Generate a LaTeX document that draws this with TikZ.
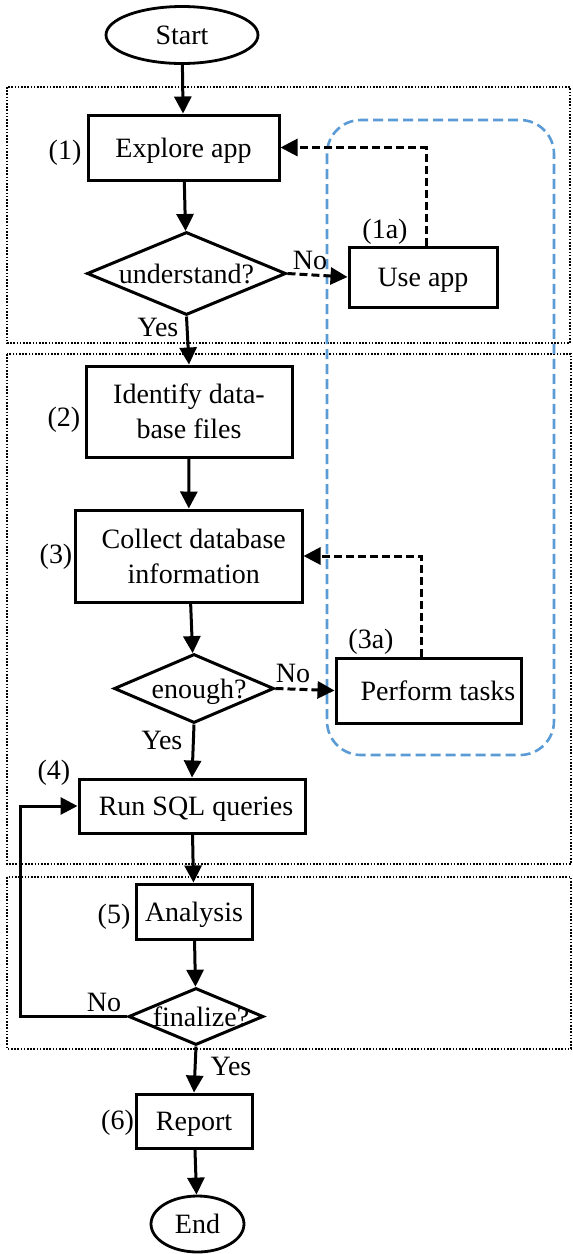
\documentclass[tikz,border=0pt]{standalone}
\usepackage{fontspec}
\setmainfont{Liberation Serif}
\usetikzlibrary{arrows.meta,shapes.geometric}
\definecolor{groupblue}{HTML}{5B9BD5}

\begin{document}
\begin{tikzpicture}[x=1pt,y=-1pt,
  every node/.style={font=\fontsize{28}{35}\selectfont},
  proc/.style={draw, line width=3pt, rectangle, inner sep=2pt, align=center, text depth=0pt},
  term/.style={draw, line width=2.8pt, ellipse, inner sep=0pt, text depth=0pt},
  dec/.style={draw, line width=3pt, diamond, inner sep=0pt, text depth=0pt},
  tag/.style={inner sep=0pt},
  flow/.style={line width=3pt, -{Triangle[length=17pt,width=17pt]}},
  alt/.style={flow, dash pattern=on 8pt off 4pt},
  phase/.style={line width=1.8pt, dash pattern=on 1.6pt off 1.6pt},
  group/.style={draw=groupblue, line width=2.6pt, dash pattern=on 10pt off 5pt, rounded corners=34pt}
]
\useasboundingbox (0,0) rectangle (573,1254);

% phase frames
\draw[phase] (7,87) rectangle (570,343);
\draw[phase] (7,354) rectangle (571,864);
\draw[phase] (7,877) rectangle (571,1049);

% group of side tasks
\draw[group] (327,120) rectangle (554,755);

% main flow
\node[term, minimum width=152pt, minimum height=57pt] (start) at (182,35) {Start};
\node[proc, minimum width=191pt, minimum height=65pt] (explore) at (183.5,147.5) {Explore app};
\node[dec, minimum width=199pt, minimum height=83pt] (und) at (186.5,273.5) {\makebox[0pt]{understand?}};
\node[proc, minimum width=148pt, minimum height=60pt] (useapp) at (423,277) {Use app};
\node[proc, minimum width=206pt, minimum height=91pt] (ident) at (189,411.5) {Identify data-\\base files};
\node[proc, minimum width=226.5pt, minimum height=92pt] (collect) at (188.75,556) {\hspace*{10pt}Collect database\\\hspace*{10pt}information};
\node[dec, minimum width=160pt, minimum height=69pt] (enough) at (194,688.5) {\makebox[0pt]{\hspace*{10pt}enough?}};
\node[proc, minimum width=185pt, minimum height=65pt] (perform) at (428.5,690.5) {\hspace*{19pt}Perform tasks};
\node[proc, minimum width=226pt, minimum height=54pt] (run) at (192,806) {\hspace*{8pt}Run SQL queries};
\node[proc, minimum width=116pt, minimum height=55pt] (analysis) at (194,911.5) {Analysis};
\node[dec, minimum width=135pt, minimum height=57pt] (final) at (196,1016.5) {\makebox[0pt]{\hspace*{10pt}finalize?}};
\node[proc, minimum width=116pt, minimum height=54pt] (report) at (194,1121) {Report};
\node[term, minimum width=93pt, minimum height=56pt] (end) at (197.5,1224) {End};

% step numbers
\node[tag] (n1) at (65,153) {(1)};
\node[tag] (n1a) at (385,232) {(1a)};
\node[tag] (n2) at (64,420) {(2)};
\node[tag] (n3) at (56,557) {(3)};
\node[tag] (n3a) at (371,642) {(3a)};
\node[tag] (n4) at (54,773) {(4)};
\node[tag] (n5) at (114,917) {(5)};
\node[tag] (n6) at (117.5,1123) {(6)};

% branch labels
\node[tag] (y1) at (158,327) {Yes};
\node[tag] (no1) at (310,260) {No};
\node[tag] (y2) at (162,740) {Yes};
\node[tag] (no2) at (293,673) {No};
\node[tag] (no3) at (104,1002) {No};
\node[tag] (y3) at (231,1066) {Yes};

% connectors
\draw[flow] (start) -- (explore);
\draw[flow] (explore) -- (und);
\draw[flow] (und.south) -- (ident.north);
\draw[alt] (und.east) -- (useapp.west);
\draw[alt] ([xshift=3pt]useapp.north) |- (explore.east);
\draw[flow] (ident) -- (collect);
\draw[flow] (collect) -- (enough);
\draw[alt] (enough.east) -- (perform.west);
\draw[alt] ([xshift=-7pt]perform.north) |- (collect.east);
\draw[flow] (enough.south) -- (run.north);
\draw[flow] (run) -- (analysis);
\draw[flow] (analysis) -- (final);
\coordinate (loop) at (20,1016.5);
\draw[flow] (final.west) -- (loop) |- (run.west);
\draw[flow] (final.south) -- (report.north);
\draw[flow] (report) -- (end);
\end{tikzpicture}
\end{document}
